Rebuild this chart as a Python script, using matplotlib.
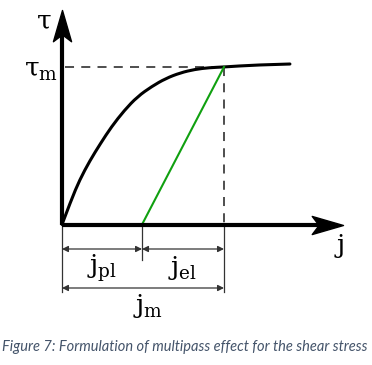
import numpy as np
import matplotlib.pyplot as plt
from matplotlib.path import Path
from matplotlib.patches import PathPatch
from matplotlib.markers import MarkerStyle

plt.rcParams['mathtext.fontset'] = 'dejavuserif'

# flow curve tau(j), normalised so that j_m = 1 and tau_m = 1
curve_j = [0, 0.057, 0.109, 0.172, 0.238, 0.305, 0.385, 0.466, 0.555, 0.640, 0.730, 0.820, 0.910, 1.0, 1.19, 1.407]
curve_tau = [0, 0.156, 0.283, 0.405, 0.515, 0.620, 0.725, 0.812, 0.877, 0.927, 0.963, 0.985, 0.996, 1.0, 1.013, 1.019]

j_pl = 0.494
j_m = 1.0
tau_m = 1.0

caption = "Figure 7: Formulation of multipass effect for the shear stress"

fig = plt.figure(figsize=(3.72, 3.65), dpi=100)
ax = fig.add_axes([0, 0, 1, 1])
# 1 unit j = 162 px, 1 unit tau = 157.5 px, origin at pixel (62, 224.5)
ax.set_xlim(-62 / 162, (372 - 62) / 162)
ax.set_ylim((224.5 - 365) / 157.5, 224.5 / 157.5)
ax.axis('off')

# arrow head marker (tip at the origin of the path)
head = Path([(0, 0), (-1, 0.29), (-0.78, 0), (-1, -0.29), (0, 0)],
            [Path.MOVETO, Path.LINETO, Path.LINETO, Path.LINETO, Path.CLOSEPOLY])

# axes
x_tip = (343 - 62) / 162
y_tip = (224.5 - 10) / 157.5
ax.plot([0, x_tip - 0.1], [0, 0], color='black', lw=3, solid_capstyle='butt', zorder=3)
ax.plot([0, 0], [0, y_tip - 0.1], color='black', lw=3, solid_capstyle='butt', zorder=3)
ax.plot(x_tip, 0, marker=MarkerStyle(head), markersize=45, color='black', zorder=4)
ax.plot(0, y_tip, marker=MarkerStyle(head).rotated(deg=90), markersize=45, color='black', zorder=4)

# dashed guides
ax.plot([0.02, j_m], [tau_m, tau_m], color='#404040', lw=1.3, dashes=(5, 4))
ax.plot([j_m, j_m], [tau_m, 0], color='#404040', lw=1.3, dashes=(5, 4))

# smooth curve through the read points (quadratic segments between midpoints)
pts = np.column_stack([curve_j, curve_tau])
verts = [pts[0]]
codes = [Path.MOVETO]
for i in range(1, len(pts) - 1):
    end = pts[-1] if i == len(pts) - 2 else (pts[i] + pts[i + 1]) / 2
    verts += [pts[i], end]
    codes += [Path.CURVE3, Path.CURVE3]
ax.add_patch(PathPatch(Path(verts, codes), fill=False, color='black', lw=2.2,
                       capstyle='round', zorder=2))
ax.plot([j_pl, j_m], [0, tau_m], color='#10a010', lw=1.5, zorder=2)

# dimension lines
dim_col = '#333333'
y_dim1 = (224.5 - 249) / 157.5
y_dim2 = (224.5 - 288) / 157.5
y_ext_long = (224.5 - 292) / 157.5
y_ext_short = (224.5 - 260) / 157.5
for xx, yb in [(0, y_ext_long), (j_pl, y_ext_short), (j_m, y_ext_long)]:
    ax.plot([xx, xx], [0, yb], color=dim_col, lw=0.9)

arrow_kw = dict(arrowstyle='<|-|>', color=dim_col, lw=0.9, shrinkA=0, shrinkB=0,
                mutation_scale=9)
ax.annotate('', xy=(0, y_dim1), xytext=(j_pl, y_dim1), arrowprops=arrow_kw)
ax.annotate('', xy=(j_pl, y_dim1), xytext=(j_m, y_dim1), arrowprops=arrow_kw)
ax.annotate('', xy=(0, y_dim2), xytext=(j_m, y_dim2), arrowprops=arrow_kw)

# labels
lab = dict(fontsize=19, ha='center', va='center', color='black')
ax.text((44 - 62) / 162, (224.5 - 22) / 157.5, r'$\mathrm{\tau}$', **lab)
ax.text((41 - 62) / 162, (224.5 - 70) / 157.5, r'$\mathrm{\tau}_\mathrm{m}$', **lab)
ax.text((102 - 62) / 162, (224.5 - 268) / 157.5, r'$\mathrm{j}_\mathrm{pl}$', **lab)
ax.text((183 - 62) / 162, (224.5 - 268) / 157.5, r'$\mathrm{j}_\mathrm{el}$', **lab)
ax.text((148 - 62) / 162, (224.5 - 306) / 157.5, r'$\mathrm{j}_\mathrm{m}$', **lab)
ax.text((339 - 62) / 162, (224.5 - 246) / 157.5, r'$\mathrm{j}$', **lab)

fig.text(185 / 372, 1 - 347 / 365, caption, ha='center', va='center',
         fontsize=10.5, style='italic', family='Lato', color='#44546a')

fig.savefig('out.png', dpi=100)
